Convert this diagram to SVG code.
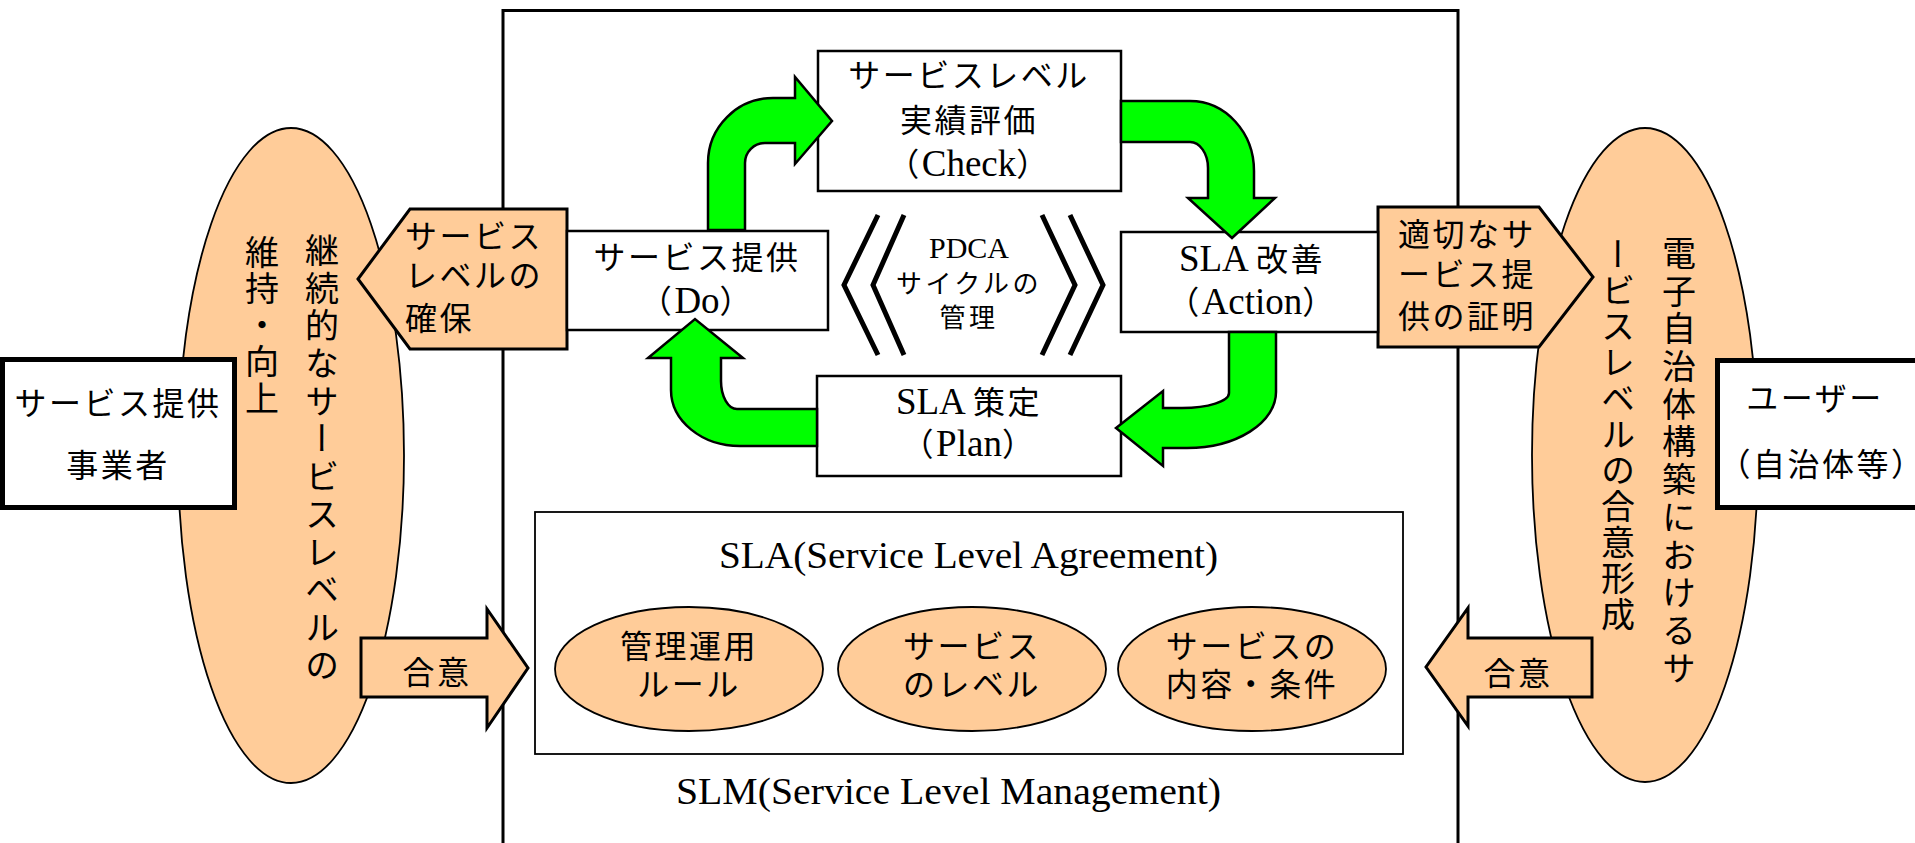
<svg xmlns="http://www.w3.org/2000/svg" width="1915" height="843" viewBox="0 0 1915 843">
<style>
.t{font-family:"Liberation Serif","Noto Sans CJK JP",serif;font-size:32px;letter-spacing:2.5px;fill:#000}
.c{text-anchor:middle}
.l{font-size:37px;letter-spacing:0}
.h{font-feature-settings:"halt"}
.v{font-family:"Noto Sans CJK JP",sans-serif;font-size:34px;letter-spacing:3.7px;writing-mode:vertical-rl;fill:#000}
.box{fill:#fff;stroke:#000;stroke-width:2.5}
.org{fill:#FFCC99;stroke:#000;stroke-width:3;stroke-linejoin:miter}
.ell{fill:#FFCC99;stroke:#000;stroke-width:1.8}
.grn{fill:#00FF00;stroke:#000;stroke-width:2.5;stroke-linejoin:miter}
.chev{fill:none;stroke:#000;stroke-width:5}
.thick{fill:#fff;stroke:#000;stroke-width:5}
.ttl{font-family:"Liberation Serif",serif;font-size:37px;fill:#000}
</style>
<rect width="1915" height="843" fill="#fff"/>

<g id="slm-frame">
<rect x="503" y="10.5" width="955" height="900" fill="#fff" stroke="#000" stroke-width="3"/>
</g>

<g id="provider-ellipse">
<ellipse class="ell" cx="291" cy="455.5" rx="113" ry="327.5"/>
<text class="v" x="322" y="233">継続的なサービスレベルの</text>
<text class="v" x="262" y="235" style="letter-spacing:2.5px">維持・向上</text>
</g>

<g id="user-ellipse">
<ellipse class="ell" cx="1645" cy="455" rx="113" ry="327"/>
<text class="v" x="1679" y="236">電子自治体構築におけるサ</text>
<text class="v" x="1618" y="237" style="letter-spacing:2px">ービスレベルの合意形成</text>
</g>

<g id="provider">
<rect class="thick" x="2.5" y="359.5" width="232" height="148"/>
<text class="t c" x="118" y="415">サービス提供</text>
<text class="t c" x="118" y="477">事業者</text>
</g>

<g id="user">
<rect class="thick" x="1717.5" y="360.5" width="200" height="147"/>
<text class="t c" x="1815" y="410">ユーザー</text>
<text class="t c" x="1822" y="476"><tspan class="h">（</tspan>自治体等<tspan class="h">）</tspan></text>
</g>

<g id="secure-level">
<polygon class="org" points="410,209 567,209 567,349 410,349 358,279"/>
<text class="t" x="405" y="248">サービス</text>
<text class="t" x="405" y="287">レベルの</text>
<text class="t" x="405" y="330">確保</text>
</g>

<g id="proof">
<polygon class="org" points="1378,207 1539,207 1593,277 1539,347 1378,347"/>
<text class="t" x="1398" y="246">適切なサ</text>
<text class="t" x="1398" y="286">ービス提</text>
<text class="t" x="1398" y="328">供の証明</text>
</g>

<g id="agree-left">
<polygon class="org" points="361,638 487,638 487,609 528,668 487,728 487,697 361,697"/>
<text class="t c" x="437" y="684">合意</text>
</g>

<g id="agree-right">
<polygon class="org" points="1592,638 1468,638 1468,608 1426,667 1468,726 1468,697 1592,697"/>
<text class="t c" x="1518" y="685">合意</text>
</g>

<g id="sla">
<rect x="535" y="512" width="868" height="242" fill="#fff" stroke="#000" stroke-width="1.8"/>
<text class="ttl" x="719" y="568" textLength="499" lengthAdjust="spacingAndGlyphs">SLA(Service Level Agreement)</text>
</g>

<g id="rules">
<ellipse class="ell" cx="689" cy="669" rx="134" ry="62"/>
<text class="t c" x="689" y="658">管理運用</text>
<text class="t c" x="689" y="696">ルール</text>
</g>

<g id="level">
<ellipse class="ell" cx="972" cy="669" rx="134" ry="62"/>
<text class="t c" x="972" y="658">サービス</text>
<text class="t c" x="972" y="696">のレベル</text>
</g>

<g id="conditions">
<ellipse class="ell" cx="1252" cy="669" rx="134" ry="62"/>
<text class="t c" x="1252" y="658">サービスの</text>
<text class="t c" x="1252" y="696">内容・条件</text>
</g>

<g id="check">
<rect class="box" x="818" y="51" width="303" height="140"/>
<text class="t c" x="969" y="87">サービスレベル</text>
<text class="t c" x="969" y="132">実績評価</text>
<text class="t c" x="969" y="176">（<tspan class="l">Check</tspan>）</text>
</g>

<g id="do">
<rect class="box" x="567" y="231" width="261" height="99"/>
<text class="t c" x="697" y="269">サービス提供</text>
<text class="t c" x="697" y="313">（<tspan class="l">Do</tspan>）</text>
</g>

<g id="action">
<rect class="box" x="1121" y="232" width="257" height="100"/>
<text class="t c" x="1252" y="271"><tspan class="l">SLA </tspan>改善</text>
<text class="t c" x="1252" y="314">（<tspan class="l">Action</tspan>）</text>
</g>

<g id="plan">
<rect class="box" x="817" y="376" width="304" height="100"/>
<text class="t c" x="969" y="414"><tspan class="l">SLA </tspan>策定</text>
<text class="t c" x="969" y="456">（<tspan class="l">Plan</tspan>）</text>
</g>

<g id="connectors">
<path class="grn" d="M708,230 L708,163 A65,65 0 0 1 773,98 L795,98 L795,77 L832,121 L795,164 L795,143 L765,143 A20,20 0 0 0 745,163 L745,230 Z"/>
<path class="grn" d="M1121,101 L1190,101 A64,70 0 0 1 1254,171 L1254,198 L1275,198 L1232,238 L1188,198 L1208,198 L1208,168 A18,26 0 0 0 1190,142 L1121,142 Z"/>
<path class="grn" d="M1229,332 L1276,332 L1276,392 A89,56 0 0 1 1187,448 L1163,448 L1163,466 L1116,428 L1163,391 L1163,408 L1182,408 A47,15 0 0 0 1229,393 Z"/>
<path class="grn" d="M817,446 L740,446 A69,56 0 0 1 671,390 L671,358 L648,358 L695,319 L743,358 L721,358 L721,381 A16,28 0 0 0 737,409 L817,409 Z"/>
</g>

<g id="pdca">
<polyline class="chev" points="878,215 844,285 878,355"/>
<polyline class="chev" points="904,215 873,285 904,355"/>
<polyline class="chev" points="1042,215 1075,285 1042,355"/>
<polyline class="chev" points="1070,215 1103,285 1070,355"/>
<text class="c" x="969" y="258" style="font-family:'Liberation Serif',serif;font-size:30px">PDCA</text>
<text class="t c" x="969" y="293" style="font-size:26px;letter-spacing:3.5px">サイクルの</text>
<text class="t c" x="969" y="327" style="font-size:26px;letter-spacing:3.5px">管理</text>
</g>

<g id="slm-title">
<text class="ttl" x="676" y="804" textLength="545" lengthAdjust="spacingAndGlyphs">SLM(Service Level Management)</text>
</g>
</svg>
